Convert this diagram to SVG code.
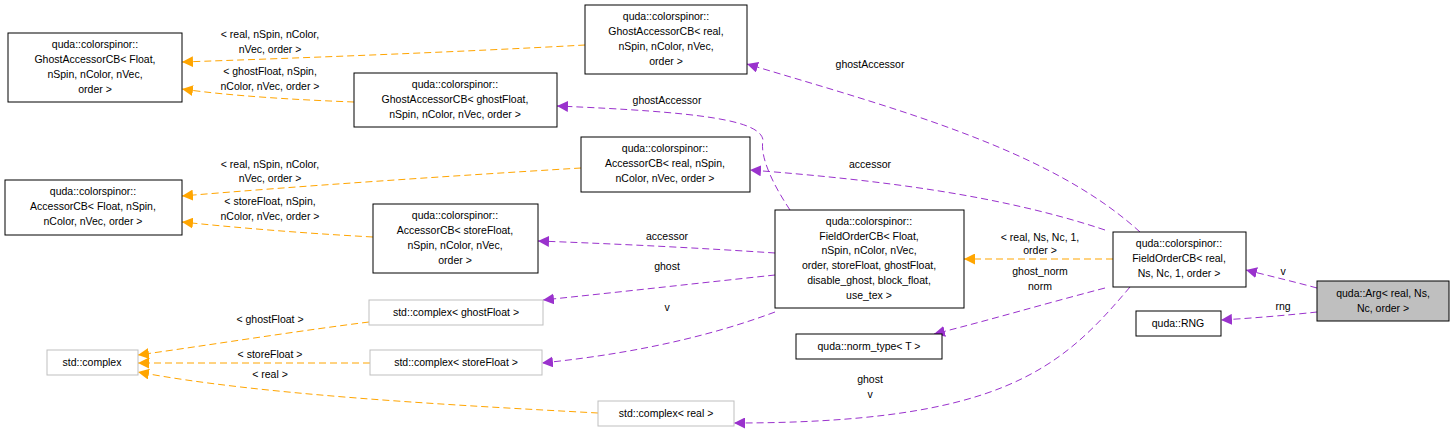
<svg xmlns="http://www.w3.org/2000/svg" width="1456" height="433" viewBox="0 0 1456 433">
<style>
text{font-family:"Liberation Sans",Arial,sans-serif;font-size:10.5px;fill:#000;text-anchor:middle}
.n rect{fill:#fff;stroke:#000;stroke-width:1}
.g rect{fill:#fff;stroke:#bfbfbf;stroke-width:1}
.o{fill:none;stroke:#ffa500;stroke-dasharray:7,4;stroke-width:1}
.p{fill:none;stroke:#9a32cd;stroke-dasharray:7,4;stroke-width:1}
</style>
<defs>
<marker id="mo" viewBox="0 0 10 10" refX="10" refY="5" markerWidth="11" markerHeight="11" markerUnits="userSpaceOnUse" orient="auto"><path d="M0,0L10,5L0,10z" fill="#ffa500"/></marker>
<marker id="mp" viewBox="0 0 10 10" refX="10" refY="5" markerWidth="11" markerHeight="11" markerUnits="userSpaceOnUse" orient="auto"><path d="M0,0L10,5L0,10z" fill="#9a32cd"/></marker>
</defs>
<rect width="1456" height="433" fill="#fff"/>
<g id="connectors">
<path class="o" marker-end="url(#mo)" d="M585,45 C460,52 300,58 182,62"/>
<path class="o" marker-end="url(#mo)" d="M354,102 C300,100 230,96 182,89"/>
<path class="o" marker-end="url(#mo)" d="M581,168 C450,176 300,186 182,196"/>
<path class="o" marker-end="url(#mo)" d="M373,237 C300,233 240,228 182,222"/>
<path class="o" marker-end="url(#mo)" d="M369,322 C290,332 210,345 138,355"/>
<path class="o" marker-end="url(#mo)" d="M370,363 L138,363"/>
<path class="o" marker-end="url(#mo)" d="M598,413 C450,405 260,395 138,372"/>
<path class="o" marker-end="url(#mo)" d="M1113,259 L964,259"/>
<path class="p" marker-end="url(#mp)" d="M1140,232 C1050,150 900,110 747,64"/>
<path class="p" marker-end="url(#mp)" d="M1105,230 C1000,195 880,180 750,170"/>
<path class="p" marker-end="url(#mp)" d="M790,210 C770,180 760,155 763,140 C760,120 700,112 557,106"/>
<path class="p" marker-end="url(#mp)" d="M775,253 C700,248 620,244 538,241"/>
<path class="p" marker-end="url(#mp)" d="M775,275 C700,283 620,292 543,300"/>
<path class="p" marker-end="url(#mp)" d="M775,312 C700,340 620,355 542,363"/>
<path class="p" marker-end="url(#mp)" d="M1105,288 C1040,305 990,320 934,334"/>
<path class="p" marker-end="url(#mp)" d="M1130,287 C1060,370 1000,423 734,423"/>
<path class="p" marker-end="url(#mp)" d="M1317,288 C1295,282 1270,276 1246,270"/>
<path class="p" marker-end="url(#mp)" d="M1317,312 C1290,315 1255,318 1221,320"/>
</g>
<g id="labels">
<text x="270" y="38">&lt; real, nSpin, nColor,</text><text x="270" y="53">nVec, order &gt;</text>
<text x="270" y="75">&lt; ghostFloat, nSpin,</text><text x="270" y="90">nColor, nVec, order &gt;</text>
<text x="270" y="168">&lt; real, nSpin, nColor,</text><text x="270" y="182">nVec, order &gt;</text>
<text x="270" y="205">&lt; storeFloat, nSpin,</text><text x="270" y="220">nColor, nVec, order &gt;</text>
<text x="270" y="323">&lt; ghostFloat &gt;</text>
<text x="270" y="358">&lt; storeFloat &gt;</text>
<text x="270" y="378">&lt; real &gt;</text>
<text x="1040" y="241">&lt; real, Ns, Nc, 1,</text><text x="1040" y="254">order &gt;</text>
<text x="870" y="68">ghostAccessor</text>
<text x="870" y="168">accessor</text>
<text x="667" y="104">ghostAccessor</text>
<text x="667" y="240">accessor</text>
<text x="667" y="270">ghost</text>
<text x="667" y="311">v</text>
<text x="1040" y="275">ghost_norm</text><text x="1040" y="290">norm</text>
<text x="870" y="383">ghost</text><text x="870" y="398">v</text>
<text x="1283" y="275">v</text>
<text x="1283" y="310">rng</text>
</g>
<g id="ga_float" class="n"><rect x="8" y="33" width="174" height="69"/><text x="95" y="48">quda::colorspinor::</text><text x="95" y="63">GhostAccessorCB&lt; Float,</text><text x="95" y="78">nSpin, nColor, nVec,</text><text x="95" y="93">order &gt;</text></g>
<g id="ga_real" class="n"><rect x="585" y="5" width="162" height="69"/><text x="666" y="20">quda::colorspinor::</text><text x="666" y="35">GhostAccessorCB&lt; real,</text><text x="666" y="50">nSpin, nColor, nVec,</text><text x="666" y="65">order &gt;</text></g>
<g id="ga_ghost" class="n"><rect x="354" y="73" width="203" height="54"/><text x="455" y="88">quda::colorspinor::</text><text x="455" y="103">GhostAccessorCB&lt; ghostFloat,</text><text x="455" y="118">nSpin, nColor, nVec, order &gt;</text></g>
<g id="acc_float" class="n"><rect x="5" y="180" width="177" height="55"/><text x="93" y="195">quda::colorspinor::</text><text x="93" y="210">AccessorCB&lt; Float, nSpin,</text><text x="93" y="225">nColor, nVec, order &gt;</text></g>
<g id="acc_real" class="n"><rect x="581" y="137" width="169" height="55"/><text x="665" y="152">quda::colorspinor::</text><text x="665" y="167">AccessorCB&lt; real, nSpin,</text><text x="665" y="182">nColor, nVec, order &gt;</text></g>
<g id="acc_store" class="n"><rect x="373" y="204" width="165" height="69"/><text x="455" y="219">quda::colorspinor::</text><text x="455" y="234">AccessorCB&lt; storeFloat,</text><text x="455" y="249">nSpin, nColor, nVec,</text><text x="455" y="264">order &gt;</text></g>
<g id="focb_float" class="n"><rect x="775" y="210" width="189" height="98"/><text x="869" y="225">quda::colorspinor::</text><text x="869" y="240">FieldOrderCB&lt; Float,</text><text x="869" y="254">nSpin, nColor, nVec,</text><text x="869" y="269">order, storeFloat, ghostFloat,</text><text x="869" y="284">disable_ghost, block_float,</text><text x="869" y="299">use_tex &gt;</text></g>
<g id="cplx_ghost" class="g"><rect x="369" y="300" width="174" height="25"/><text x="456" y="316">std::complex&lt; ghostFloat &gt;</text></g>
<g id="cplx" class="g"><rect x="47" y="350" width="91" height="25"/><text x="92" y="366">std::complex</text></g>
<g id="cplx_store" class="g"><rect x="370" y="350" width="172" height="25"/><text x="456" y="366">std::complex&lt; storeFloat &gt;</text></g>
<g id="cplx_real" class="g"><rect x="598" y="401" width="136" height="25"/><text x="666" y="417">std::complex&lt; real &gt;</text></g>
<g id="norm_type" class="n"><rect x="796" y="334" width="146" height="25"/><text x="869" y="350">quda::norm_type&lt; T &gt;</text></g>
<g id="focb_real" class="n"><rect x="1113" y="232" width="133" height="55"/><text x="1179" y="247">quda::colorspinor::</text><text x="1179" y="262">FieldOrderCB&lt; real,</text><text x="1179" y="277">Ns, Nc, 1, order &gt;</text></g>
<g id="rng" class="n"><rect x="1136" y="311" width="85" height="25"/><text x="1178" y="327">quda::RNG</text></g>
<g id="arg" class="n"><rect x="1317" y="281" width="132" height="40" style="fill:#bfbfbf"/><text x="1383" y="297">quda::Arg&lt; real, Ns,</text><text x="1383" y="312">Nc, order &gt;</text></g>
</svg>
